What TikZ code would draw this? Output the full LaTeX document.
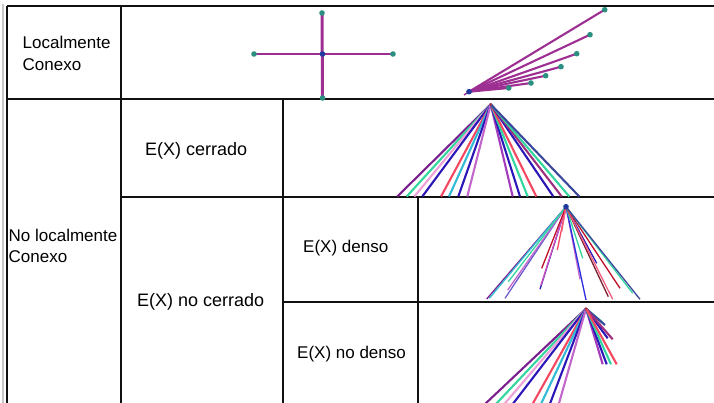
\documentclass[tikz,border=0pt]{standalone}
\usepackage{fontspec}
\setmainfont{Liberation Sans}
\definecolor{tline}{HTML}{111111}
\definecolor{gline}{HTML}{C8C8C8}
\definecolor{mag}{HTML}{9E2F92}
\definecolor{teal}{HTML}{2A8F80}
\definecolor{dotblue}{HTML}{1F3A9E}
\definecolor{cDpur}{HTML}{7A1F8E}
\definecolor{cGrn}{HTML}{33D69F}
\definecolor{cPnk}{HTML}{F0A0D8}
\definecolor{cInd}{HTML}{2B16B8}
\definecolor{cRed}{HTML}{F5475F}
\definecolor{cCyn}{HTML}{33BBD6}
\definecolor{cOrc}{HTML}{C266CC}
\definecolor{cPur}{HTML}{A33BBB}
\definecolor{cMag}{HTML}{A0307F}
\definecolor{cNav}{HTML}{3B479B}
\definecolor{cBlu}{HTML}{2B2BE0}
\definecolor{cBrn}{HTML}{7A2030}
\definecolor{cDred}{HTML}{C0102A}
\definecolor{cPk2}{HTML}{F06080}
\definecolor{cMg2}{HTML}{D050C0}
\tikzset{
  tab/.style={draw=tline, line width=1.4pt},
  lblC/.style={anchor=base west, inner sep=0pt, font=\fontsize{18}{21}\selectfont},
  lbl/.style={anchor=base west, inner sep=0pt, font=\fontsize{17}{21}\selectfont},
  tdot/.style={fill=teal, draw=none},
  bdot/.style={fill=dotblue, draw=none},
  fanA/.style={line width=2.1pt},
  fanB/.style={line width=1.3pt},
}
\begin{document}
\begin{tikzpicture}[x=1pt, y=-1pt]
\useasboundingbox (0,0) rectangle (714,403);
\clip (0,0) rectangle (714,403);
\fill[white] (0,0) rectangle (714,403);

% table lines
\draw[gline, line width=2pt] (3,4) -- (3,403);
\draw[tab] (7,6) -- (714,6);
\draw[tab] (7,6) -- (7,403);
\draw[tab] (121,6) -- (121,403);
\draw[tab] (7,99) -- (714,99);
\draw[tab] (283,99) -- (283,403);
\draw[tab] (121,197) -- (714,197);
\draw[tab] (418,197) -- (418,403);
\draw[tab] (283,302) -- (714,302);

% labels
\node[lbl] (l1) at (22.5,49) {Localmente};
\node[lbl] (l2) at (22.5,71) {Conexo};
\node[lbl] (n1) at (8.5,241) {No localmente};
\node[lbl] (n2) at (8.5,262) {Conexo};
\node[lblC] (ec) at (145,155.5) {E(X) cerrado};
\node[lblC] (enc) at (137,306) {E(X) no cerrado};
\node[lbl] (ed) at (303,252) {E(X) denso};
\node[lbl] (end) at (297,358) {E(X) no denso};

% cross
\coordinate (cc) at (322.5,54);
\coordinate (ct) at (322,13);
\coordinate (cb) at (322.5,98);
\coordinate (cl) at (254,54);
\coordinate (cr) at (393,54);
\draw[mag, line width=3pt] (ct) -- (cb);
\draw[mag, line width=2pt] (cl) -- (cr);
\foreach \p in {ct,cb,cl,cr} \fill[tdot] (\p) circle (2.8);
\fill[bdot] (cc) circle (2.8);

% top-right fan
\coordinate (fa) at (469,91.7);
\coordinate (ftail) at (464,95);
\coordinate (f1) at (604.7,9.7);
\coordinate (f2) at (590,34.7);
\coordinate (f3) at (576.7,53.7);
\coordinate (f4) at (561,66.7);
\coordinate (f5) at (545.7,75.7);
\coordinate (f6) at (531,83);
\coordinate (f7) at (508.7,88);
\draw[mag, line width=1.5pt] (fa) -- (ftail);
\foreach \p in {f1,f2,f3,f4,f5,f6,f7} {
  \draw[mag, fanA] (fa) -- (\p);
  \fill[tdot] (\p) circle (2.8);
}
\fill[bdot] (fa) circle (2.8);

% fan in E(X) cerrado
\coordinate (ga) at (490.7,104.3);
\foreach \x/\c in {397.3/cDpur,406.7/cGrn,414.3/cPnk,422.3/cInd,441/cRed,449/cCyn,458.3/cInd,467.3/cOrc,
                   512.7/cPur,520/cInd,527.7/cGrn,536.3/cRed,553.3/cInd,561.7/cMag,569.3/cGrn,579.3/cNav} {
  \draw[\c, fanA] (ga) -- (\x,196.5);
}
\fill[cRed!70!black] (ga) circle (1.5);

% fan in E(X) denso
\coordinate (da) at (566,206.7);
\foreach \x/\y/\c in {486.7/299/cDpur,489.3/298.3/cCyn,505/298.3/cInd!70!white,507.7/290/cOrc,508.3/281.7/cGrn,
                      540/289.3/cInd,541/285/cMg2,541.7/268.3/cDred,557.3/250/cRed,561.7/231.7/cPk2,
                      580/279.3/cOrc,586/300/cBlu,582.7/258.3/cGrn,596.7/263.3/cInd,608.3/296.7/cBrn,
                      612.7/299.3/cPk2,620/288.3/cDred,632.7/293.3/cGrn,640/299.3/cNav} {
  \draw[\c, fanB] (da) -- (\x,\y);
}
\fill[bdot] (da) circle (2.8);

% fan in E(X) no denso
\coordinate (ha) at (586,308.7);
\foreach \x/\c in {484/cDpur,495/cGrn,503.5/cPnk,512/cInd,532/cRed,540.5/cCyn,549.5/cInd,558.5/cOrc} {
  \draw[\c, fanA] (ha) -- (\x,405);
}
\foreach \x/\y/\c in {603/323/cGrn,605/325/cNav,607.7/338.3/cInd,612.7/339.3/cMag,
                      602.7/364.3/cPur,606.7/364.3/cInd,611/364.3/cGrn,616.7/364.3/cRed} {
  \draw[\c, fanA] (ha) -- (\x,\y);
}
\fill[cRed!70!black] (ha) circle (1.5);
\end{tikzpicture}
\end{document}
